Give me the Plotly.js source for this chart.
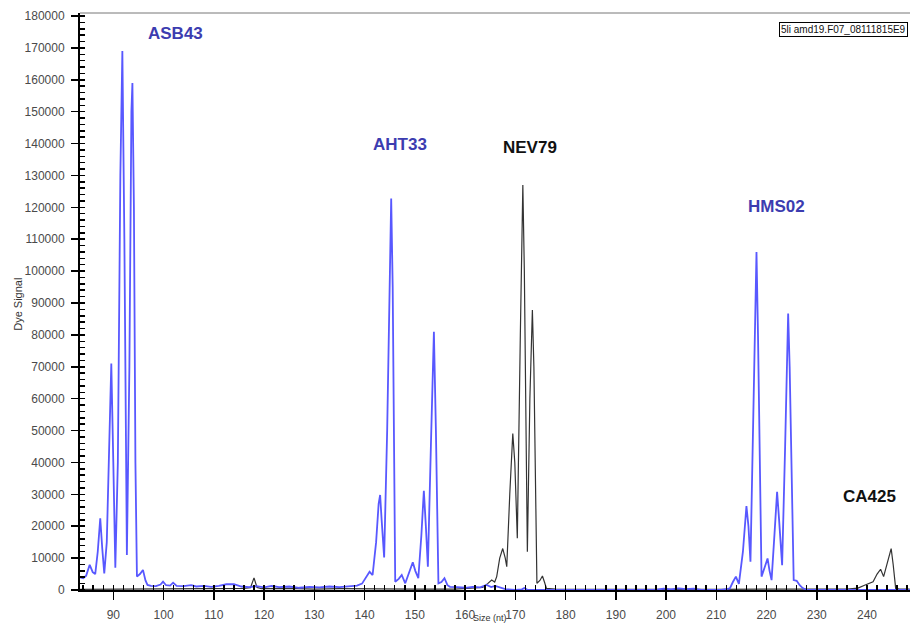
<!DOCTYPE html>
<html>
<head>
<meta charset="utf-8">
<script src="https://cdn.plot.ly/plotly-3.0.1.min.js"></script>
<style>html,body{margin:0;padding:0;background:#fff;}#chart{width:910px;height:624px;}</style>
</head>
<body>
<div id="chart"></div>
<script>
// Blue dye trace (size in nt, signal)
const blueSize = [83.4,84.0,84.6,85.3,85.9,86.4,86.9,87.4,87.8,88.2,88.7,89.2,89.6,90.0,90.4,90.9,91.4,91.8,92.2,92.7,93.2,93.6,93.8,94.1,94.4,94.7,95.3,95.9,96.4,96.8,97.5,98.5,99.4,99.9,100.5,101.3,101.9,102.6,104,105.5,106.5,108,109.5,111,112.5,114,115.5,117,118.5,120,121.5,123,125,127,129,131,133,135,137,138.5,139.5,140.3,141.0,141.6,142.3,142.8,143.1,143.4,143.9,144.5,145.0,145.3,145.6,146.1,146.8,147.4,148.1,148.9,149.6,150.1,150.7,151.3,151.8,152.2,152.6,153.2,153.8,154.2,154.7,155.3,155.9,156.5,157.0,158.5,160,161.5,163,164.3,165.2,166,167,168,170,171.3,171.8,172.5,198,199.5,201,202.5,204,205.5,207,211,212,212.7,213.3,213.9,214.5,215.3,216.0,216.4,216.8,217.4,217.8,218.0,218.3,219.0,219.6,220.2,220.6,221.0,221.6,222.1,222.5,223.1,223.7,224.1,224.3,224.6,225.4,226.0,226.6,227.2,228,248.5];
const blueSignal = [4000,3700,4500,7900,5600,5000,12000,22500,13000,5200,15000,50000,71000,40000,7000,40000,130000,169000,110000,11000,70000,150000,159000,120000,40000,4200,5000,6300,3000,1600,1300,1200,1700,2600,1500,1400,2300,1300,1200,1500,1100,1300,1000,1300,1800,1800,1100,900,1200,800,1300,900,1100,700,1000,800,1100,900,1100,1400,2000,4000,5700,4700,15000,27000,29800,22000,10200,50000,105000,122800,95000,2600,3500,4700,2100,6000,8700,6000,3700,17000,31100,20000,7300,45000,81000,50000,2100,2500,3700,1500,1000,900,700,1000,800,1600,900,1300,900,300,0,200,600,0,0,400,200,500,300,400,0,0,300,500,2500,4200,1900,12000,26300,20000,8900,60000,100000,106000,80000,4200,7000,9900,6000,3100,18000,30800,22000,7800,45000,80000,86700,70000,3100,2900,1500,600,0,0];

// Black dye trace
const blackSize = [83.4,100,110,116,117.3,118.0,118.6,119.5,125,130,135,140,150,158,162,163.5,164.5,165.3,165.9,166.3,166.9,167.5,168.0,168.3,168.9,169.5,169.9,170.4,171.0,171.5,171.8,172.4,172.9,173.4,173.7,174.3,174.9,175.4,175.8,176.2,178,185,200,210,215,225,236,238.2,239.5,240.5,241.2,242.0,242.7,243.3,244.2,244.8,245.2,245.7,246.5,248.5];
const blackSignal = [200,300,400,500,700,3800,800,400,500,300,400,300,300,300,500,800,2000,3100,2500,4200,10000,13000,10000,7300,30000,49100,40000,16200,80000,127000,100000,12000,60000,87800,70000,2100,3000,4400,2500,500,300,200,200,200,300,300,300,600,1500,2100,2600,5000,6500,4200,10000,13000,8000,500,300,300];

// Marker labels
const markerNames = ["ASB43","AHT33","NEV79","HMS02","CA425"];
const markerX = [102.3,147.1,173.0,221.9,240.4];
const markerY = [174600,139800,138900,120400,29200];
const markerColors = ["#3c3cb0","#3c3cb0","#111111","#3c3cb0","#111111"];

const sampleName = "5li amd19.F07_08111815E9";
const xTitle = "Size (nt)";
const yTitle = "Dye Signal";

const font = "Liberation Sans, Arial, sans-serif";
const xRange = [83.37, 248.55];
const yRange = [0, 180940];

const traces = [
  {x: blackSize, y: blackSignal, type: 'scatter', mode: 'lines', line: {color: '#333333', width: 1.2}, hoverinfo: 'skip'},
  {x: blueSize, y: blueSignal, type: 'scatter', mode: 'lines', line: {color: 'rgb(88,88,255)', width: 1.8}, hoverinfo: 'skip'}
];

const annotations = markerNames.map((n, i) => ({
  x: markerX[i], y: markerY[i], xref: 'x', yref: 'y', text: '<b>' + n + '</b>',
  showarrow: false, font: {family: font, size: 17, color: markerColors[i]}
}));
annotations.push({
  x: 0.9976, y: 0.971, xref: 'paper', yref: 'paper', xanchor: 'right', yanchor: 'middle',
  text: sampleName, showarrow: false, bgcolor: '#ffffff', bordercolor: '#000000', borderwidth: 1, borderpad: 1,
  font: {family: font, size: 10, color: '#111'}
});
annotations.push({
  x: -0.0747, y: 0.496, xref: 'paper', yref: 'paper', xanchor: 'center', yanchor: 'middle',
  text: yTitle, textangle: -90, showarrow: false,
  font: {family: font, size: 11, color: '#333'}
});
annotations.push({
  x: 0.4940, y: -0.0589, xref: 'paper', yref: 'paper', yanchor: 'bottom', text: xTitle, showarrow: false,
  borderpad: 0, font: {family: font, size: 9, color: '#333'}
});

const tickFont = {family: font, size: 12, color: '#4a4a4a'};

const layout = {
  width: 910, height: 624,
  margin: {l: 80, r: 0, t: 13, b: 34},
  paper_bgcolor: '#ffffff', plot_bgcolor: '#ffffff',
  showlegend: false,
  font: {family: font, size: 12, color: '#555'},
  xaxis: {
    range: xRange, showgrid: false, zeroline: false,
    showline: true, linecolor: '#000', linewidth: 2, layer: 'above traces',
    tickmode: 'linear', tick0: 0, dtick: 10, ticks: 'outside', ticklen: 8, tickcolor: '#000', tickwidth: 1.5,
    ticklabelstandoff: 5,
    minor: {tickmode: 'linear', tick0: 0, dtick: 2, ticks: 'inside', ticklen: 5, tickcolor: '#000', tickwidth: 1.5, showgrid: false},
    tickfont: tickFont
  },
  yaxis: {
    range: yRange, showgrid: false, zeroline: false,
    showline: true, linecolor: '#000', linewidth: 2,
    tickmode: 'linear', tick0: 0, dtick: 10000, tickformat: 'd', ticks: 'outside', ticklen: 7, tickcolor: '#000', tickwidth: 1.5,
    ticklabelstandoff: 4,
    minor: {tickmode: 'linear', tick0: 0, dtick: 2000, ticks: 'inside', ticklen: 5, tickcolor: '#000', tickwidth: 1.5, showgrid: false},
    tickfont: tickFont
  },
  shapes: [{type: 'line', xref: 'paper', yref: 'paper', x0: 0, x1: 1, y0: 1, y1: 1, line: {color: '#777', width: 1}}],
  annotations: annotations
};

Plotly.newPlot('chart', traces, layout, {displayModeBar: false, staticPlot: true});
</script>
</body>
</html>
